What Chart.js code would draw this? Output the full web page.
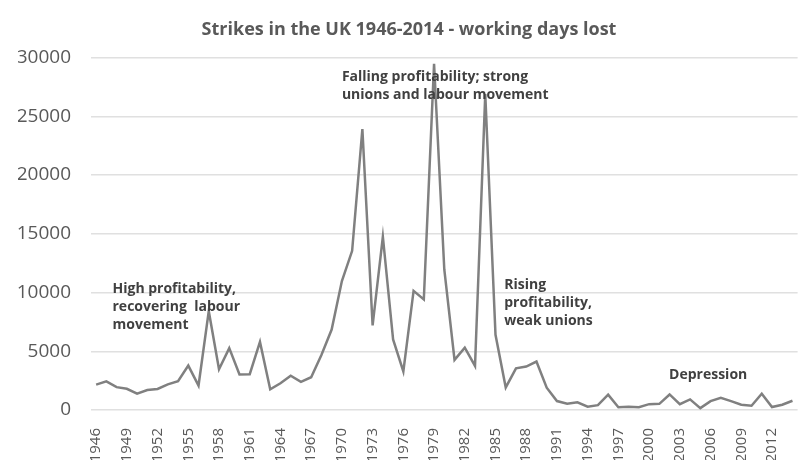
<!DOCTYPE html>
<html>
<head>
<meta charset="utf-8">
<script src="https://cdn.jsdelivr.net/npm/chart.js@4.4.1/dist/chart.umd.min.js"></script>
<style>
  html, body { margin: 0; padding: 0; background: #fff; }
  #wrap { width: 800px; height: 460px; }
</style>
</head>
<body>
<div id="wrap"><canvas id="strikes"></canvas></div>
<script>
// Working days lost to strikes in the UK (thousands), one value per year
const years = [];
for (let y = 1946; y <= 2014; y++) years.push(String(y));

const daysLost = [
  2158, 2433, 1944, 1807, 1389, 1694, 1792, 2184, 2457, 3781,   // 1946-1955
  2083, 8412, 3462, 5270, 3024, 3046, 5798, 1755, 2277, 2925,   // 1956-1965
  2398, 2787, 4690, 6846, 10980, 13551, 23909, 7197, 14750, 6012, // 1966-1975
  3284, 10142, 9405, 29474, 11964, 4266, 5313, 3754, 26900, 6402, // 1976-1985
  1920, 3546, 3702, 4128, 1903, 761, 528, 649, 278, 415,        // 1986-1995
  1303, 235, 282, 242, 499, 525, 1323, 499, 905, 157,           // 1996-2005
  755, 1041, 759, 455, 365, 1390, 249, 444, 788                 // 2006-2014
];

const yTicks = [0, 5000, 10000, 15000, 20000, 25000, 30000];

// Period notes written onto the plot area
const notes = [
  { lines: ['High profitability,', 'recovering  labour', 'movement'], year: 1947.6, value: 10300 },
  { lines: ['Falling profitability; strong', 'unions and labour movement'], year: 1970.0, value: 28360 },
  { lines: ['Rising', 'profitability,', 'weak unions'], year: 1985.85, value: 10650 },
  { lines: ['Depression'], year: 2001.95, value: 2980 }
];

const notesPlugin = {
  id: 'periodNotes',
  afterDatasetsDraw(chart) {
    const { ctx, scales } = chart;
    ctx.save();
    ctx.fillStyle = '#404040';
    ctx.font = 'bold 14px "Open Sans"';
    ctx.textAlign = 'left';
    ctx.textBaseline = 'middle';
    notes.forEach(n => {
      const x = scales.x.getPixelForValue(n.year - 1946);
      const y = scales.y.getPixelForValue(n.value);
      n.lines.forEach((line, i) => ctx.fillText(line, x, y + i * 18));
    });
    ctx.restore();
  }
};

new Chart(document.getElementById('strikes'), {
  type: 'line',
  data: {
    labels: years,
    datasets: [{
      data: daysLost,
      borderColor: '#808080',
      borderWidth: 2.5,
      pointRadius: 0,
      tension: 0,
      fill: false
    }]
  },
  options: {
    responsive: true,
    maintainAspectRatio: false,
    animation: false,
    layout: { padding: { left: 18, right: 0, top: 0, bottom: 0 } },
    plugins: {
      legend: { display: false },
      tooltip: { enabled: false },
      title: {
        display: true,
        text: 'Strikes in the UK 1946-2014 - working days lost',
        color: '#595959',
        font: { family: '"Open Sans"', size: 18, weight: 'bold' },
        padding: { top: 19, bottom: 17 }
      }
    },
    scales: {
      x: {
        offset: true,
        grid: { display: false },
        border: { display: false },
        afterFit(scale) {
          scale.height = 50;
        },
        ticks: {
          autoSkip: false,
          minRotation: 90,
          maxRotation: 90,
          padding: 10,
          color: '#595959',
          font: { family: '"Open Sans"', size: 15 },
          callback(value, index) {
            return index % 3 === 0 ? this.getLabelForValue(value) : null;
          }
        }
      },
      y: {
        min: 0,
        max: 30000,
        afterBuildTicks(scale) {
          scale.ticks = yTicks.map(v => ({ value: v }));
        },
        afterFit(scale) {
          scale.width = 73;
        },
        grid: { color: '#e0e0e0', lineWidth: 1.5, drawTicks: false },
        border: { display: false },
        ticks: {
          padding: 20,
          color: '#595959',
          font: { family: '"Open Sans"', size: 19 },
          callback: v => String(v)
        }
      }
    }
  },
  plugins: [notesPlugin]
});
</script>
</body>
</html>
